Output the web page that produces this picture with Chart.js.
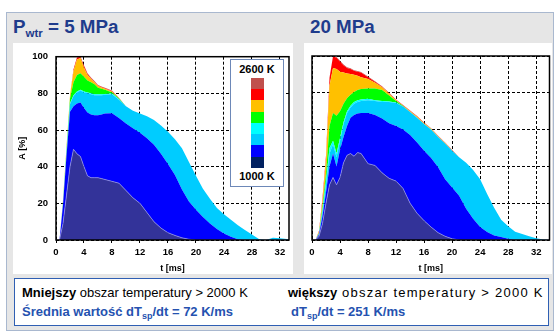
<!DOCTYPE html>
<html>
<head>
<meta charset="utf-8">
<script src="https://cdn.jsdelivr.net/npm/chart.js@4.4.0/dist/chart.umd.min.js"></script>
<style>
body { margin:0; width:554px; height:332px; background:#fff; position:relative; overflow:hidden;
       font-family:"Liberation Sans", Arial, sans-serif; }
#frame { position:absolute; left:6px; top:12px; width:546px; height:317px; background:#e6e6e6; border:1px solid #a9b8cf; }
.title { position:absolute; top:16px; font-weight:bold; font-size:18.8px; line-height:21px; color:#1f3c8c; white-space:nowrap; }
.title sub { font-size:11.5px; vertical-align:baseline; position:relative; top:4px; }
.panel { position:absolute; top:43px; height:231px; background:#fff; }
#note { position:absolute; left:14px; top:278px; width:533px; height:46px; background:#fff; border:1.5px solid #2f5fb3; }
.line { position:absolute; font-size:13px; line-height:15px; white-space:nowrap; color:#000; }
.line sub { font-size:9px; vertical-align:baseline; position:relative; top:3px; }
.blue { color:#2552b0; font-weight:bold; }
.wide { letter-spacing:1.25px; }
#scale { position:absolute; left:230px; top:59px; width:52px; height:126px; background:#fff; border:1.5px solid #6d88b8; }
#scale .lbl { position:absolute; left:0; width:52px; text-align:center; font-weight:bold; font-size:11px; line-height:13px; color:#000; }
#scale .sw { position:absolute; left:20px; width:12.5px; }
</style>
</head>
<body>
<div id="frame"></div>
<div class="title" style="left:13px">P<sub>wtr</sub> = 5 MPa</div>
<div class="title" style="left:310px">20 MPa</div>
<div class="panel" style="left:13px; width:280px"><canvas id="chart5"></canvas></div>
<div class="panel" style="left:304px; width:248px"><canvas id="chart20"></canvas></div>
<div id="scale"></div>
<div id="note"></div>
<div class="line" style="left:22px; top:284.5px"><b>Mniejszy</b> obszar temperatury &gt; 2000 K</div>
<div class="line" style="left:288px; top:284.5px"><b>większy</b><span class="wide"> obszar temperatury &gt; 2000 K</span></div>
<div class="line blue" style="left:22px; top:304px">Średnia wartość dT<sub>sp</sub>/dt = 72 K/ms</div>
<div class="line blue" style="left:291px; top:304px">dT<sub>sp</sub>/dt = 251 K/ms</div>
<script>
// time axis shared by both panels [ms]
const timesMs = [0, 0.5, 1, 1.5, 2, 2.5, 3, 3.5, 4, 4.5, 5, 5.5, 6, 6.5, 7, 8, 9, 10, 11, 12, 13, 14, 15, 16, 17, 18, 19, 20, 21, 22, 23, 24, 25, 26, 27, 28, 29, 30, 31, 32, 33, 33.9];
const xTicks = [0, 4, 8, 12, 16, 20, 24, 28, 32];
const yTicks = [0, 20, 40, 60, 80, 100];

// temperature bands, bottom (1000 K) to top (2600 K)
const bandColors = ['#333399', '#0000ff', '#00ccff', '#00ffff', '#00ff00', '#ffc000', '#ff0000', '#c0504d'];
// colour scale box, top to bottom
const scaleColors = ['#c0504d', '#ff0000', '#ffc000', '#00ff00', '#00ffff', '#00ccff', '#0000ff', '#002060'];
const scaleLabels = ['2600 K', '1000 K'];

// 5 MPa - upper edge of each band, A [%]
const navy5 = [0, 0, 9, 24.5, 40, 49.5, 47, 45.5, 40, 35, 34, 34, 34, 33.5, 33, 32, 31, 27, 23, 20, 15, 10, 6.5, 4, 2.5, 1.2, 0.4, 0, 0, 0, 0, 0, 0, 0, 0, 0, 0, 0, 0, 0, 0, 0];
const blue5 = [0, 0, 19, 46, 70, 73, 74.5, 75, 72, 69.5, 68.5, 68, 68, 68.5, 69, 69.2, 66.5, 63.5, 61, 58.5, 55.5, 52, 47, 41.5, 35.5, 27.5, 21, 16.5, 12.5, 9, 6, 3.5, 1.8, 0.4, 0, 0, 0, 0, 0, 0, 0, 0];
const sky5 = [0, 0, 20, 48, 74, 78.5, 80.5, 81.5, 80.5, 80, 79.5, 79, 79, 79, 79.3, 79.5, 76.5, 73, 70.5, 69, 67.5, 65.5, 62.5, 59, 55, 50, 42.5, 35, 28, 22.5, 17.5, 14, 11, 8, 5.5, 3, 0.5, 0, 1.2, 1, 0.6, 0.3];
const cyan5 = [0, 0, 20.3, 48.3, 74.6, 79, 81, 82, 81, 80.5, 80, 79.5, 79.5, 79.5, 79.7, 79.9, 76.8, 73, 70.5, 69, 67.5, 65.5, 62.5, 59, 55, 50, 42.5, 35, 28, 22.5, 17.5, 14, 11, 8, 5.5, 3, 0.5, 0, 1.2, 1, 0.6, 0.3];
const green5 = [0, 0, 21, 49.5, 77, 86, 90, 91, 89, 87, 86, 85, 83, 82.5, 82, 80.5, 77.2, 73, 70.5, 69, 67.5, 65.5, 62.5, 59, 55, 50, 42.5, 35, 28, 22.5, 17.5, 14, 11, 8, 5.5, 3, 0.5, 0, 1.2, 1, 0.6, 0.3];
const orange5 = [0, 0, 22, 51, 79, 92, 98.5, 99.3, 94, 90, 87.8, 86, 84, 83.2, 82.5, 81, 77.4, 73, 70.5, 69, 67.5, 65.5, 62.5, 59, 55, 50, 42.5, 35, 28, 22.5, 17.5, 14, 11, 8, 5.5, 3, 0.5, 0, 1.2, 1, 0.6, 0.3];
const red5 = [0, 0, 22, 51, 79, 93, 99.5, 100, 95, 90.7, 88.3, 86.4, 84.3, 83.5, 82.8, 81.3, 77.5, 73, 70.5, 69, 67.5, 65.5, 62.5, 59, 55, 50, 42.5, 35, 28, 22.5, 17.5, 14, 11, 8, 5.5, 3, 0.5, 0, 1.2, 1, 0.6, 0.3];
const brown5 = [0, 0, 22, 51, 79, 93.2, 99.7, 100, 95.3, 91, 88.6, 86.7, 84.6, 83.8, 83, 81.5, 77.6, 73, 70.5, 69, 67.5, 65.5, 62.5, 59, 55, 50, 42.5, 35, 28, 22.5, 17.5, 14, 11, 8, 5.5, 3, 0.5, 0, 1.2, 1, 0.6, 0.3];

// 20 MPa - upper edge of each band, A [%]
const navy20 = [0, 0, 2, 9, 20, 30, 34, 30, 34, 42, 46, 47, 45.5, 47.5, 47, 41.5, 40.5, 36.5, 33.5, 32, 28, 20, 14.5, 10.5, 7, 4, 2, 0.7, 0, 0, 0, 0, 0, 0, 0, 0, 0, 0, 0, 0, 0, 0];
const blue20 = [0, 0, 3, 13, 26, 40, 47, 40, 49, 56, 62, 66.5, 68, 68.7, 69, 69, 68, 66, 63.5, 62, 60, 57, 53, 48.5, 44.5, 39.5, 33, 28.5, 24, 17, 11.5, 7, 4.3, 2.5, 1.6, 0.7, 0, 0, 0, 0, 0, 0];
const sky20 = [0, 0, 3.5, 15, 30, 47, 52, 45, 54, 63, 69, 72, 74, 75, 75.5, 76, 75.5, 75, 75, 74.5, 72.5, 69.5, 66.5, 63, 60, 56, 52.5, 48.5, 45, 42, 38, 33, 25, 17.5, 11, 7.5, 4.5, 3.2, 2, 1, 0.3, 0];
const cyan20 = [0, 0, 3.7, 16, 32, 50, 54, 47, 55.5, 64, 70, 73, 75, 76, 76.3, 76.7, 76, 75.5, 75.3, 74.7, 72.5, 69.5, 66.5, 63, 60, 56, 52.5, 48.5, 45, 42, 38, 33, 25, 17.5, 11, 7.5, 4.5, 3.2, 2, 1, 0.3, 0];
const green20 = [0, 0, 3.9, 18, 36, 62, 69, 67.5, 70, 74, 77, 79, 80.5, 81.5, 82, 82.4, 82.4, 81.5, 78.5, 75.5, 72.8, 69.5, 66.5, 63, 60, 56, 52.5, 48.5, 45, 42, 38, 33, 25, 17.5, 11, 7.5, 4.5, 3.2, 2, 1, 0.3, 0];
const orange20 = [0, 0, 4.5, 21, 44, 84, 93.5, 93, 91.5, 91, 90.5, 90.2, 89.8, 89.3, 88.5, 87.5, 85.5, 83, 79.5, 76, 73, 70, 67, 63.5, 60.4, 56.3, 52.7, 48.7, 45, 42, 38, 33, 25, 17.5, 11, 7.5, 4.5, 3.2, 2, 1, 0.3, 0];
const red20 = [0, 0, 5, 23, 46, 88, 99.8, 99, 97, 95, 93.5, 93, 92, 91.5, 91, 88.5, 86, 83.3, 79.8, 76.2, 73.2, 70.2, 67.2, 63.7, 60.5, 56.4, 52.8, 48.8, 45, 42, 38, 33, 25, 17.5, 11, 7.5, 4.5, 3.2, 2, 1, 0.3, 0];
const brown20 = [0, 0, 5, 23, 46, 88.3, 100, 99.4, 97.4, 95.4, 93.9, 93.3, 92.3, 91.8, 91.3, 88.8, 86.3, 83.5, 80, 76.4, 73.4, 70.4, 67.4, 63.9, 60.7, 56.6, 53, 49, 45, 42, 38, 33, 25, 17.5, 11, 7.5, 4.5, 3.2, 2, 1, 0.3, 0];

Chart.defaults.font.family = "'Liberation Sans', Arial, sans-serif";

// solid box round the plot area (grid lines are dashed)
const plotFrame = {
    id: 'plotFrame',
    afterDatasetsDraw(chart) {
        const a = chart.chartArea;
        const ctx = chart.ctx;
        ctx.save();
        ctx.setLineDash([]);
        ctx.strokeStyle = '#000';
        ctx.lineWidth = 1.5;
        ctx.strokeRect(a.left, a.top, a.right - a.left, a.bottom - a.top);
        ctx.restore();
    }
};

function makeBands(bands) {
    return bands.map((values, i) => ({
        data: values,
        backgroundColor: bandColors[i],
        borderColor: i === 0 ? 'rgba(150,150,235,0.9)' : 'rgba(0,0,0,0)',
        borderWidth: i === 0 ? 0.8 : 0,
        fill: i === 0 ? 'origin' : '-1',
        pointRadius: 0,
        tension: 0
    }));
}

function makeChart(canvasId, bands, withYLabels, xMax, pad) {
    new Chart(document.getElementById(canvasId), {
        type: 'line',
        data: { labels: timesMs, datasets: makeBands(bands) },
        options: {
            animation: false,
            responsive: true,
            maintainAspectRatio: false,
            layout: { padding: pad },
            plugins: { legend: { display: false }, tooltip: { enabled: false } },
            scales: {
                x: {
                    type: 'linear', min: 0, max: xMax,
                    afterBuildTicks: ax => { ax.ticks = xTicks.map(v => ({ value: v })); },
                    afterFit: ax => { ax.height = 34; },
                    grid: { color: '#000', lineWidth: 1, tickLength: 3, tickColor: '#000' },
                    border: { display: false, dash: [3, 2] },
                    ticks: { color: '#000', font: { size: 9.5, weight: 'bold' }, padding: 4, maxRotation: 0, autoSkip: false },
                    title: { display: true, text: 't [ms]', color: '#000', font: { size: 9, weight: 'bold' }, padding: { top: 3, bottom: 0 } }
                },
                y: {
                    min: 0, max: 100,
                    afterBuildTicks: ax => { ax.ticks = yTicks.map(v => ({ value: v })); },
                    afterFit: ax => { ax.width = withYLabels ? 43 : 0; },
                    grid: { color: '#000', lineWidth: 1, drawTicks: false },
                    border: { display: false, dash: [3, 2] },
                    ticks: { display: withYLabels, color: '#000', font: { size: 9.5, weight: 'bold' }, padding: 8 },
                    title: { display: withYLabels, text: 'A [%]', color: '#000', font: { size: 9, weight: 'bold' }, padding: { top: 4, bottom: 0 } }
                }
            }
        },
        plugins: [plotFrame]
    });
}

makeChart('chart5', [navy5, blue5, sky5, cyan5, green5, orange5, red5, brown5], true, 33.3, { left: 0, top: 13, right: 4, bottom: 0 });
makeChart('chart20', [navy20, blue20, sky20, cyan20, green20, orange20, red20, brown20], false, 33.9, { left: 8, top: 13, right: 2.5, bottom: 0 });

// colour scale box
const scaleBox = document.getElementById('scale');
const topLabel = document.createElement('div');
topLabel.className = 'lbl';
topLabel.style.top = '3px';
topLabel.textContent = scaleLabels[0];
scaleBox.appendChild(topLabel);
scaleColors.forEach((c, i) => {
    const sw = document.createElement('div');
    sw.className = 'sw';
    sw.style.top = (17.8 + i * 11.25) + 'px';
    sw.style.height = '11.3px';
    sw.style.background = c;
    scaleBox.appendChild(sw);
});
const bottomLabel = document.createElement('div');
bottomLabel.className = 'lbl';
bottomLabel.style.top = '110px';
bottomLabel.textContent = scaleLabels[1];
scaleBox.appendChild(bottomLabel);
</script>
</body>
</html>
